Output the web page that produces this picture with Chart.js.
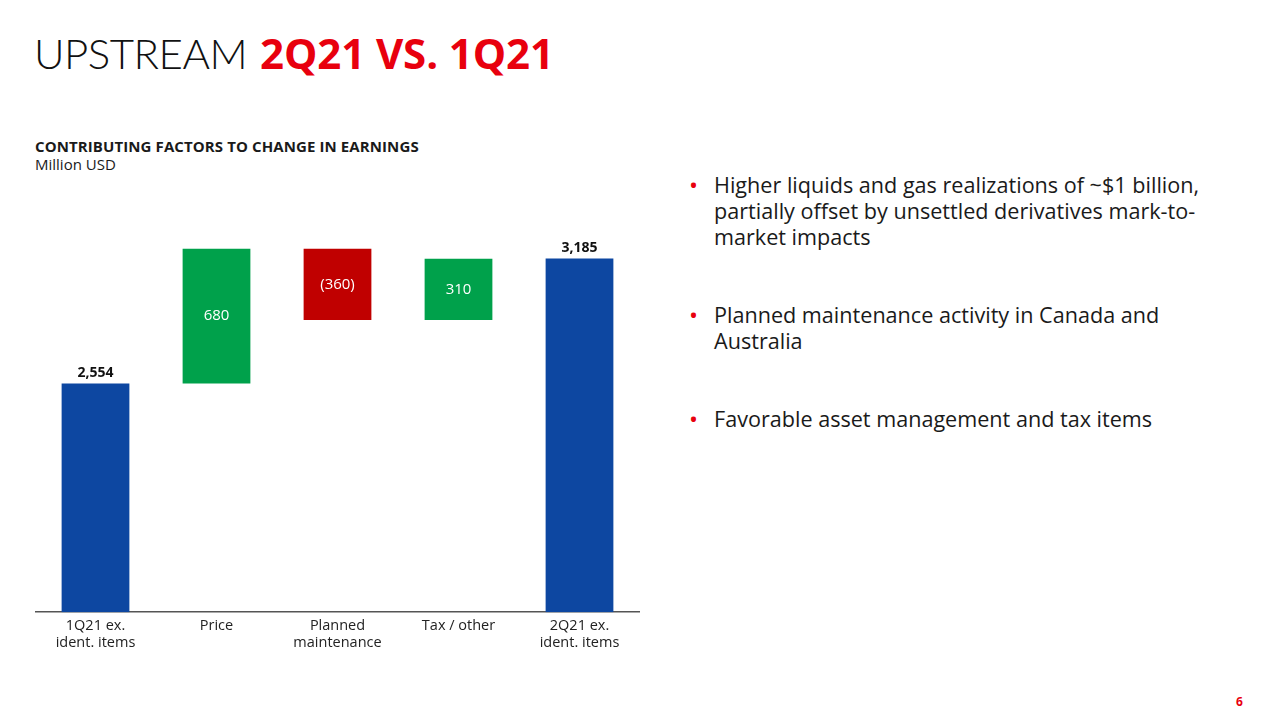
<!DOCTYPE html>
<html>
<head>
<meta charset="utf-8">
<script src="https://cdn.jsdelivr.net/npm/chart.js@4"></script>
<style>
  body { margin: 0; width: 1280px; height: 720px; background: #fff; position: relative; overflow: hidden; font-family: "Open Sans", sans-serif; color: #1a1a1a; }
  .title { position: absolute; left: 34px; top: 24px; font-size: 42px; white-space: nowrap; }
  .title .thin { font-family: "Lato", sans-serif; font-weight: 300; color: #111; letter-spacing: -0.5px; }
  .title .red { font-family: "Open Sans", sans-serif; font-weight: 700; color: #e8000e; letter-spacing: -0.1px; margin-left: 2px; }
  .sub { position: absolute; left: 35px; top: 136px; font-size: 15px; font-weight: 700; letter-spacing: 0.1px; }
  .unit { position: absolute; left: 35px; top: 154px; font-size: 15px; }
  .bullets { position: absolute; left: 690px; top: 169px; width: 580px; font-size: 21.6px; line-height: 26px; color: #1a1a1a; white-space: nowrap; }
  .bullets .b { position: relative; padding-left: 24px; }
  .bullets .b::before { content: "\2022"; color: #e8000e; position: absolute; left: -1px; top: 0; font-size: 24px; }
  .page { position: absolute; left: 1236px; top: 693px; font-size: 12px; font-weight: 700; color: #e8000e; }
  #wrap { position: absolute; left: 35px; top: 200px; width: 605px; height: 457px; }
</style>
</head>
<body>
<div class="title"><span class="thin">UPSTREAM</span> <span class="red">2Q21 VS. 1Q21</span></div>
<div class="sub">CONTRIBUTING FACTORS TO CHANGE IN EARNINGS</div>
<div class="unit">Million USD</div>
<div class="bullets">
  <div class="b" style="top:3px">Higher liquids and gas realizations of ~$1 billion,<br>partially offset by unsettled derivatives mark-to-<br>market impacts</div>
  <div class="b" style="top:55px">Planned maintenance activity in Canada and<br>Australia</div>
  <div class="b" style="top:107px">Favorable asset management and tax items</div>
</div>
<div class="page">6</div>
<div id="wrap"><canvas id="c"></canvas></div>
<script>
const categories = [
  ['1Q21 ex.', 'ident. items'],
  'Price',
  ['Planned', 'maintenance'],
  'Tax / other',
  ['2Q21 ex.', 'ident. items']
];
const startValue = 2554;
const deltas = [680, -360, 310];
const endValue = 3185;
const labelTexts = ['2,554', '680', '(360)', '310', '3,185'];

const BLUE = '#0d47a1', GREEN = '#00a14b', RED = '#c00000';

// floating bars from running total
let running = startValue;
const ranges = [[1400, startValue]];
const colors = [BLUE];
deltas.forEach(d => {
  ranges.push([running, running + d]);
  colors.push(d >= 0 ? GREEN : RED);
  running += d;
});
ranges.push([1400, endValue]);
colors.push(BLUE);

const labelPlugin = {
  id: 'labels',
  afterDatasetsDraw(chart) {
    const ctx = chart.ctx;
    const meta = chart.getDatasetMeta(0);
    ctx.save();
    ctx.textAlign = 'center';
    meta.data.forEach((bar, i) => {
      const isTotal = i === 0 || i === meta.data.length - 1;
      if (isTotal) {
        ctx.font = 'bold 14px "Open Sans"';
        ctx.fillStyle = '#111';
        ctx.textBaseline = 'bottom';
        ctx.fillText(labelTexts[i], bar.x, Math.min(bar.y, bar.base) - 3);
      } else {
        ctx.font = '15px "Open Sans"';
        ctx.fillStyle = '#fff';
        ctx.textBaseline = 'middle';
        ctx.fillText(labelTexts[i], bar.x, (bar.y + bar.base) / 2);
      }
    });
    ctx.restore();
  }
};

new Chart(document.getElementById('c'), {
  type: 'bar',
  data: {
    labels: categories,
    datasets: [{
      data: ranges,
      backgroundColor: colors,
      borderSkipped: false,
      barPercentage: 0.56,
      categoryPercentage: 1
    }]
  },
  options: {
    responsive: true,
    maintainAspectRatio: false,
    animation: false,
    layout: { padding: 0 },
    plugins: { legend: { display: false }, tooltip: { enabled: false } },
    scales: {
      x: {
        grid: { display: false, drawTicks: false },
        border: { display: true, color: '#555', width: 1.5 },
        ticks: { color: '#222', font: { family: 'Open Sans', size: 14.5 }, padding: 5, maxRotation: 0, autoSkip: false }
      },
      y: { display: false, min: 1400, max: 3480 }
    }
  },
  plugins: [labelPlugin]
});
</script>
</body>
</html>
